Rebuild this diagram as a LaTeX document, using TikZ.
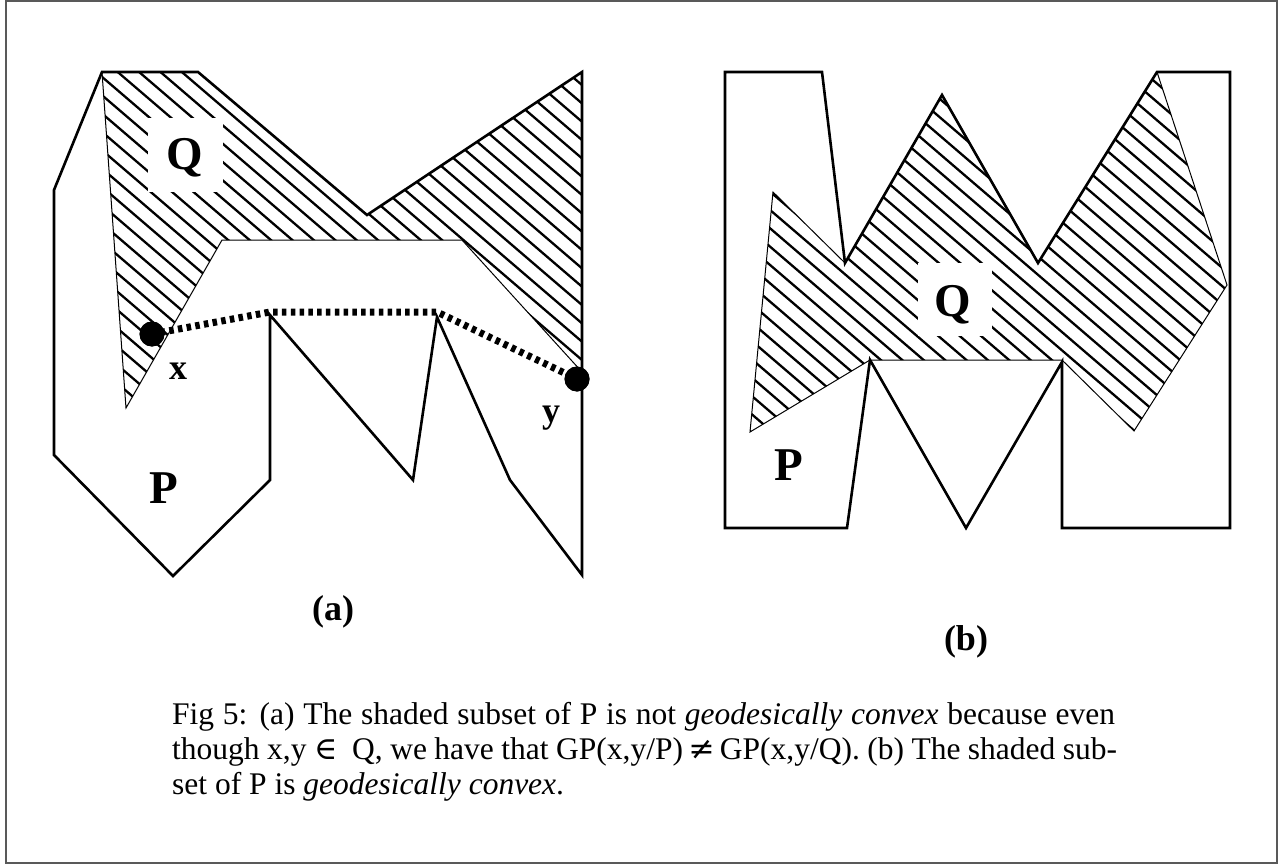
\documentclass[tikz,border=0pt]{standalone}
\usepackage{fontspec}
\setmainfont{Liberation Serif}
\newfontfamily\symfont{DejaVu Serif}
\begin{document}
\begin{tikzpicture}[x=1pt,y=-1pt,
  frame/.style={draw=black!65,line width=2pt},
  polyP/.style={draw=black,line width=2.6pt,line join=miter},
  qedge/.style={draw=black,line width=1pt},
  hatchline/.style={draw=black,line width=2.3pt},
  geo/.style={draw=black,line width=7pt,dash pattern=on 4.5pt off 4.3pt},
  dot/.style={circle,fill=black,inner sep=0pt,minimum size=25pt},
  biglbl/.style={inner sep=0pt,anchor=base,font=\bfseries\fontsize{47}{47}\selectfont},
  smalllbl/.style={inner sep=0pt,anchor=base,font=\bfseries\fontsize{36}{36}\selectfont},
  sublbl/.style={inner sep=0pt,anchor=base,font=\bfseries\fontsize{36}{36}\selectfont},
  captxt/.style={inner sep=0pt,anchor=base west,font=\fontsize{31.5}{35}\selectfont},
  whitebox/.style={fill=white,draw=none}]
\useasboundingbox (0,0) rectangle (1283,864);
\draw[frame] (6,1) rectangle (1277,862.5);

% ---------- (a) hatching of Q ----------
\begin{scope}
  \clip (102,72) -- (198,72) -- (367,215) -- (582,72) -- (582,372) -- (462,240) -- (222,240) -- (126,408) -- cycle;
  \foreach \i in {-2,...,43} {\draw[hatchline] (0,{-413.8+18.33*\i}) -- ++(700,600);}
\end{scope}
\fill[whitebox] (148,118) rectangle (223,192);
\draw[qedge] (102,72) -- (126,408) -- (222,240) -- (462,240) -- (582,372);

% ---------- (a) polygon P ----------
\draw[polyP] (102,72) -- (198,72) -- (367,215) -- (582,72) -- (582,575) -- (510,480) -- (437,317) -- (413,480) -- (270,315) -- (270,480) -- (173,576) -- (54,455) -- (54,190) -- cycle;

% ---------- (a) geodesic ----------
\coordinate (g1) at (270,312);
\coordinate (g2) at (437,312);
\node[dot] (xd) at (152,334) {};
\node[dot] (yd) at (577,379) {};
\draw[geo] (xd.center) -- (g1) -- (g2) -- (yd.center);
\node[dot] at (xd.center) {};
\node[dot] at (yd.center) {};

\node[biglbl] (qa) at (185,170) {Q};
\node[biglbl] (pa) at (164,503) {P};
\node[smalllbl] (xl) at (178,379) {x};
\node[smalllbl] (yl) at (551,422) {y};
\node[sublbl] (la) at (333,620) {(a)};

% ---------- (b) hatching of Q ----------
\begin{scope}
  \clip (773,192) -- (845,263) -- (942,95) -- (1038,263) -- (1157,72) -- (1227,285) -- (1134,431) -- (1062,360) -- (870,360) -- (750,432) -- cycle;
  \foreach \i in {0,...,46} {\draw[hatchline] (700,{-400+18.33*\i}) -- ++(583,500);}
\end{scope}
\fill[whitebox] (918,263) rectangle (992,336);
\draw[qedge] (845,263) -- (773,192) -- (750,432) -- (870,360) -- (1062,360) -- (1134,431) -- (1227,285) -- (1157,72);

% ---------- (b) polygon P ----------
\draw[polyP] (725,72) -- (822,72) -- (845,263) -- (942,95) -- (1038,263) -- (1157,72) -- (1230,72) -- (1230,528) -- (1062,528) -- (1062,362) -- (966,528) -- (870,360) -- (847,528) -- (725,528) -- cycle;

\node[biglbl] (qb) at (953,316) {Q};
\node[biglbl] (pb) at (789,480) {P};
\node[sublbl] (lb) at (966,650) {(b)};

% ---------- caption ----------
\node[captxt] (c1) at (172,724) {\makebox[943pt][s]{Fig 5: (a) The shaded subset of P is not \textit{geodesically convex} because even}};
\node[captxt] (c2) at (172,759) {\makebox[945pt][s]{though x,y {\symfont ∈}\ \ Q, we have that GP(x,y/P)\,{\symfont ≠}\,GP(x,y/Q). (b) The shaded sub-}};
\node[captxt] (c3) at (172,794) {set of P is \textit{geodesically convex}.};
\end{tikzpicture}
\end{document}
